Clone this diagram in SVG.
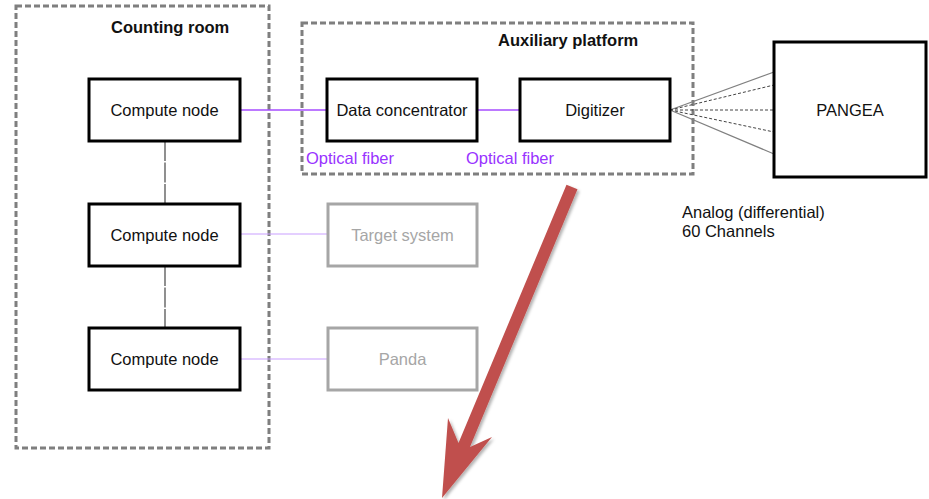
<svg xmlns="http://www.w3.org/2000/svg" width="929" height="499" viewBox="0 0 929 499">
<defs>
<style>
text{font-family:"Liberation Sans",Arial,sans-serif;font-size:16.5px;fill:#111}
.b{font-weight:bold}
.c{text-anchor:middle}
.grp{fill:none;stroke:#7f7f7f;stroke-width:3;stroke-dasharray:6,3}
.node{fill:#fff;stroke:#000;stroke-width:3}
.gnode{fill:#fff;stroke:#a6a6a6;stroke-width:3}
.gt{fill:#a6a6a6}
.pt{fill:#9933ff}
.fib{stroke:#a64dff;stroke-width:1.5;fill:none}
.fibl{stroke:#c9a0ff;stroke-width:1.2;fill:none}
.vl{stroke:#555;stroke-width:1.3;stroke-dasharray:20,1.5}
.fs{stroke:#808080;stroke-width:1.2}
.fd{stroke:#444;stroke-width:1;stroke-dasharray:3,2}
</style>
<filter id="sh" x="-20%" y="-20%" width="140%" height="140%"><feDropShadow dx="2" dy="2" stdDeviation="1.5" flood-color="#000" flood-opacity="0.3"/></filter>
</defs>
<rect width="929" height="499" fill="#fff"/>
<g id="counting-room"><rect class="grp" x="16" y="6" width="253" height="442"/><text class="b" x="111" y="33">Counting room</text></g>
<g id="auxiliary-platform"><rect class="grp" x="302" y="23" width="391" height="151"/><text class="b" x="498" y="46">Auxiliary platform</text></g>
<g id="connectors">
<line class="fib" x1="240" y1="110" x2="327" y2="110"/>
<line class="fib" x1="477" y1="110" x2="520" y2="110"/>
<line class="fibl" x1="240" y1="234" x2="328" y2="234"/>
<line class="fibl" x1="240" y1="359" x2="328" y2="359"/>
<line class="vl" x1="165" y1="141" x2="165" y2="204"/>
<line class="vl" x1="165" y1="266" x2="165" y2="328"/>
<line class="fs" x1="670" y1="110" x2="774" y2="72"/>
<line class="fd" x1="670" y1="110" x2="774" y2="85"/>
<line class="fd" x1="670" y1="110" x2="774" y2="110"/>
<line class="fd" x1="670" y1="110" x2="774" y2="132"/>
<line class="fs" x1="670" y1="110" x2="774" y2="154"/>
<text class="pt" x="306" y="164">Optical fiber</text>
<text class="pt" x="466" y="164">Optical fiber</text>
<text x="682" y="218">Analog (differential)</text>
<text x="682" y="237">60 Channels</text>
</g>
<g id="compute-node-1"><rect class="node" x="89" y="79" width="151" height="62"/><text class="c" x="164.5" y="116">Compute node</text></g>
<g id="compute-node-2"><rect class="node" x="89" y="204" width="151" height="62"/><text class="c" x="164.5" y="241">Compute node</text></g>
<g id="compute-node-3"><rect class="node" x="89" y="328" width="151" height="62"/><text class="c" x="164.5" y="365">Compute node</text></g>
<g id="data-concentrator"><rect class="node" x="327" y="79" width="150" height="62"/><text class="c" x="402" y="116">Data concentrator</text></g>
<g id="digitizer"><rect class="node" x="520" y="79" width="150" height="62"/><text class="c" x="595" y="116">Digitizer</text></g>
<g id="pangea"><rect class="node" x="774" y="42" width="152" height="135"/><text class="c" x="850" y="116">PANGEA</text></g>
<g id="target-system"><rect class="gnode" x="328" y="204" width="149" height="62"/><text class="c gt" x="402.5" y="241">Target system</text></g>
<g id="panda"><rect class="gnode" x="328" y="328" width="149" height="62"/><text class="c gt" x="402.5" y="365">Panda</text></g>
<g id="red-arrow"><polygon filter="url(#sh)" fill="#c0504d" points="566.5,184.7 577.5,189.3 470,447 492,437 442,498 448,418 458.5,443"/></g>
</svg>
